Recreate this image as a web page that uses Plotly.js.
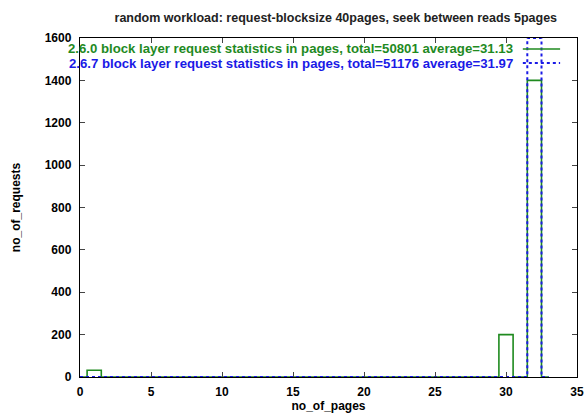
<!DOCTYPE html>
<html><head><meta charset="utf-8">
<script src="https://cdn.plot.ly/plotly-3.0.1.min.js"></script>
<style>html,body{margin:0;padding:0;background:#fff}#chart{width:584px;height:414px}</style>
</head><body><div id="chart"></div>
<script>
const pages = [0,1,2,3,4,5,6,7,8,9,10,11,12,13,14,15,16,17,18,19,20,21,22,23,24,25,26,27,28,29,30,31,32,33];
const reqs260 = [0,32,0,0,0,0,0,0,0,0,0,0,0,0,0,0,0,0,0,0,0,0,0,0,0,0,0,0,0,0,200,0,1400,0];
const reqs267 = [0,0,0,0,0,0,0,0,0,0,0,0,0,0,0,0,0,0,0,0,0,0,0,0,0,0,0,0,0,0,0,0,1600,0];
const legend260 = "2.6.0 block layer request statistics in pages, total=50801 average=31.13";
const legend267 = "2.6.7 block layer request statistics in pages, total=51176 average=31.97";
const titleText = "random workload: request-blocksize 40pages, seek between reads 5pages";

const green = "#1f8a1f", blue = "#1a1ae6";
const font = "Liberation Sans, Arial, sans-serif";

const traces = [
  {x: pages, y: reqs260, mode: "lines", line: {shape: "hvh", color: green, width: 1.6}, showlegend: false},
  {x: pages, y: reqs267, mode: "lines", line: {shape: "hvh", color: blue, width: 2, dash: "dot"}, showlegend: false}
];
const layout = {
  width: 584, height: 414,
  margin: {l: 80, r: 7, t: 38, b: 37},
  paper_bgcolor: "#fff", plot_bgcolor: "#fff",
  font: {family: font, size: 12, color: "#000"},
  title: {text: titleText, x: 0.575, xanchor: "center", y: 0.958, yanchor: "middle", font: {size: 12.5, family: font, weight: "bold", color: "#222"}},
  xaxis: {range: [0, 35], dtick: 5, tick0: 0, ticks: "inside", ticklen: 5, mirror: "ticks", showline: true, linecolor: "#000", linewidth: 1.2, showgrid: false, zeroline: false,
    ticklabelstandoff: 3,
    tickfont: {size: 12, family: font, weight: "bold"}, title: {text: "no_of_pages", standoff: 4, font: {size: 12, family: font, weight: "bold"}}},
  yaxis: {range: [0, 1600], dtick: 200, tick0: 0, ticks: "inside", ticklen: 5, mirror: "ticks", showline: true, linecolor: "#000", linewidth: 1.2, showgrid: false, zeroline: false,
    ticklabelstandoff: 5,
    tickfont: {size: 12, family: font, weight: "bold"}, title: {text: "no_of_requests", standoff: 21, font: {size: 12, family: font, weight: "bold"}}},
  annotations: [
    {xref: "paper", yref: "paper", x: 0.876, y: 0.9676, xanchor: "right", yanchor: "middle", text: legend260, showarrow: false, font: {color: green, size: 13.2, family: font, weight: "bold"}},
    {xref: "paper", yref: "paper", x: 0.876, y: 0.926, xanchor: "right", yanchor: "middle", text: legend267, showarrow: false, font: {color: blue, size: 13.2, family: font, weight: "bold"}}
  ],
  shapes: [
    {type: "line", xref: "paper", yref: "paper", x0: 0.891, x1: 0.966, y0: 0.9676, y1: 0.9676, line: {color: green, width: 1.6}},
    {type: "line", xref: "paper", yref: "paper", x0: 0.891, x1: 0.966, y0: 0.926, y1: 0.926, line: {color: blue, width: 2, dash: "dot"}}
  ]
};
Plotly.newPlot("chart", traces, layout, {displayModeBar: false, staticPlot: true});
</script></body></html>
